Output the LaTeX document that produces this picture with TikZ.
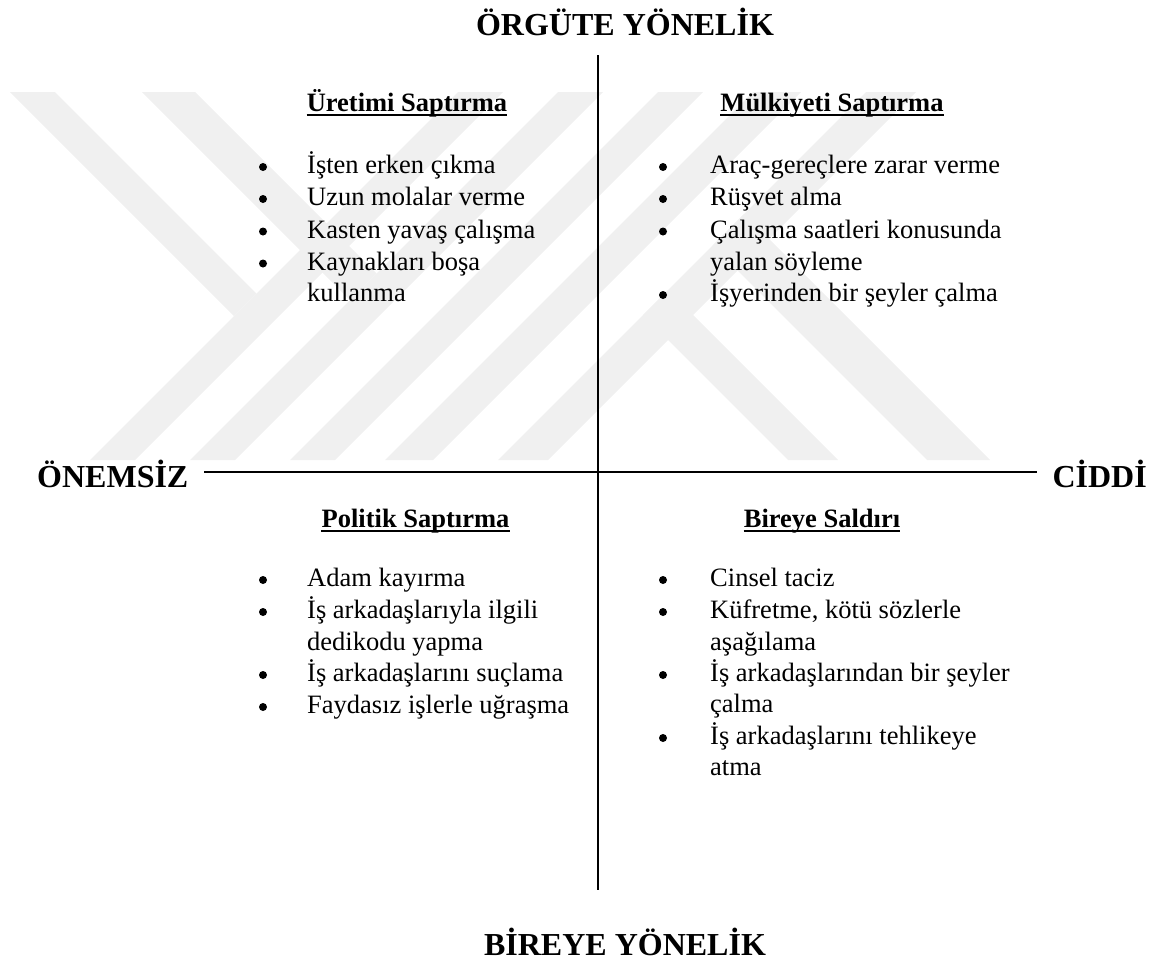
\documentclass[tikz,border=0pt]{standalone}
\usepackage{fontspec}
\setmainfont{Liberation Serif}
\begin{document}
\begin{tikzpicture}[x=1pt,y=-1pt]
\tikzset{
  big/.style={font=\fontsize{32}{38}\selectfont\bfseries, inner sep=0},
  head/.style={font=\fontsize{26.5}{32}\selectfont\bfseries, inner sep=0, anchor=base},
  item/.style={font=\fontsize{26.5}{32}\selectfont, inner sep=0, anchor=west, text height=18.5pt, text depth=5.3pt},
  dot/.style={circle, fill=black, inner sep=0, minimum size=8pt},
  axis/.style={line width=2pt},
  uline/.style={line width=2.2pt},
  wm/.style={fill=black!6, draw=none}
}
\useasboundingbox (0,0) rectangle (1165,972);
% watermark
\begin{scope}
  \clip (0,92) rectangle (1165,460);
  \fill[wm] (10,92) -- (55,92) -- (256.5,293.5) -- (234,316) -- cycle;
  \fill[wm] (142,92) -- (195,92) -- (376.5,273.5) -- (350,300) -- cycle;
  \fill[wm] (458,92) -- (503,92) -- (135,460) -- (90,460) -- cycle;
  \fill[wm] (558,92) -- (603,92) -- (235,460) -- (190,460) -- cycle;
  \fill[wm] (658,92) -- (703,92) -- (335,460) -- (290,460) -- cycle;
  \fill[wm] (753,92) -- (801,92) -- (433,460) -- (385,460) -- cycle;
  \fill[wm] (866,92) -- (916,92) -- (548,460) -- (498,460) -- cycle;
  \fill[wm] (643,315) -- (668,290) -- (838,460) -- (788,460) -- cycle;
  \fill[wm] (712.5,245.5) -- (744,214) -- (990,460) -- (927,460) -- cycle;
\end{scope}
% titles
\node[big, anchor=base] (top) at (625,35.5) {ÖRGÜTE YÖNELİK};
\node[big, anchor=base] (bottom) at (625,955) {BİREYE YÖNELİK};
\node[big, anchor=base west] (left) at (37,487) {ÖNEMSİZ};
\node[big, anchor=base east] (right) at (1147,487) {CİDDİ};
% axes
\coordinate (vt) at (598,55);
\coordinate (vb) at (598,890);
\coordinate (hl) at (204,472);
\coordinate (hr) at (1037,472);
\draw[axis] (vt) -- (vb);
\draw[axis] (hl) -- (hr);
% headings
\node[head] (h1) at (407,111) {Üretimi Saptırma};
\node[head] (h2) at (832,111) {Mülkiyeti Saptırma};
\node[head] (h3) at (415.5,527) {Politik Saptırma};
\node[head] (h4) at (822,527) {Bireye Saldırı};
\foreach \h in {h1,h2,h3,h4}{
  \draw[uline] ([yshift=-3.8pt]\h.base west) -- ([yshift=-3.8pt]\h.base east);
}
% quadrant 1
\node[dot] (d11) at (263,167) {};
\node[item] (t11) at (307,167) {İşten erken çıkma};
\node[dot] (d12) at (263,199) {};
\node[item] (t12) at (307,199) {Uzun molalar verme};
\node[dot] (d13) at (263,231.5) {};
\node[item] (t13) at (307,231.5) {Kasten yavaş çalışma};
\node[dot] (d14) at (263,263.5) {};
\node[item] (t14) at (307,263.5) {Kaynakları boşa};
\node[item] (t15) at (307,295) {kullanma};
% quadrant 2
\node[dot] (d21) at (663,167) {};
\node[item] (t21) at (710,167) {Araç-gereçlere zarar verme};
\node[dot] (d22) at (663,199) {};
\node[item] (t22) at (710,199) {Rüşvet alma};
\node[dot] (d23) at (663,231.5) {};
\node[item] (t23) at (710,231.5) {Çalışma saatleri konusunda};
\node[item] (t24) at (710,263.5) {yalan söyleme};
\node[dot] (d25) at (663,295) {};
\node[item] (t25) at (710,295) {İşyerinden bir şeyler çalma};
% quadrant 3
\node[dot] (d31) at (263,580) {};
\node[item] (t31) at (307,580) {Adam kayırma};
\node[dot] (d32) at (263,612) {};
\node[item] (t32) at (307,612) {İş arkadaşlarıyla ilgili};
\node[item] (t33) at (307,643.5) {dedikodu yapma};
\node[dot] (d34) at (263,675) {};
\node[item] (t34) at (307,675) {İş arkadaşlarını suçlama};
\node[dot] (d35) at (263,707) {};
\node[item] (t35) at (307,707) {Faydasız işlerle uğraşma};
% quadrant 4
\node[dot] (d41) at (663,580) {};
\node[item] (t41) at (710,580) {Cinsel taciz};
\node[dot] (d42) at (663,612) {};
\node[item] (t42) at (710,612) {Küfretme, kötü sözlerle};
\node[item] (t43) at (710,643.5) {aşağılama};
\node[dot] (d44) at (663,675) {};
\node[item] (t44) at (710,675) {İş arkadaşlarından bir şeyler};
\node[item] (t45) at (710,706) {çalma};
\node[dot] (d46) at (663,738) {};
\node[item] (t46) at (710,738) {İş arkadaşlarını tehlikeye};
\node[item] (t47) at (710,769) {atma};
\end{tikzpicture}
\end{document}
